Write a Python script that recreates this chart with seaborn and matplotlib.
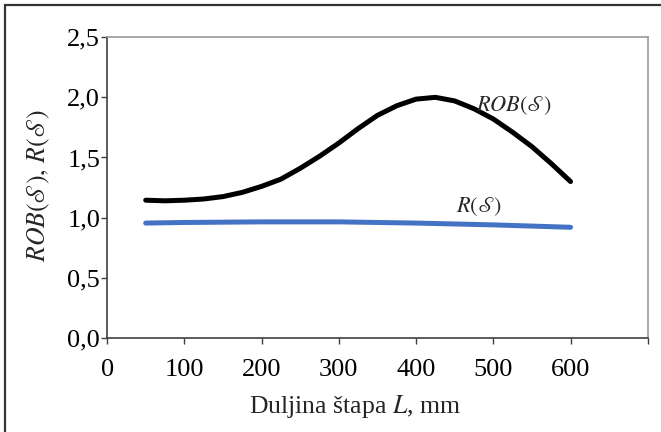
import matplotlib
matplotlib.use("Agg")
import matplotlib.pyplot as plt
import seaborn as sns
import pandas as pd
from matplotlib.patches import Rectangle

# values
duljina = [50, 75, 100, 125, 150, 175, 200, 225, 250, 275, 300, 325,
           350, 375, 400, 425, 450, 475, 500, 525, 550, 575, 600]
rob = [1.145, 1.14, 1.145, 1.155, 1.175, 1.21, 1.26, 1.32, 1.41, 1.51, 1.62, 1.74,
       1.85, 1.93, 1.985, 2.0, 1.97, 1.905, 1.82, 1.71, 1.59, 1.45, 1.30]
r_duljina = [50, 100, 200, 300, 400, 500, 600]
r_vals = [0.955, 0.96, 0.965, 0.965, 0.955, 0.94, 0.92]

x_ticks = [0, 100, 200, 300, 400, 500, 600, 700]
x_labels = ["0", "100", "200", "300", "400", "500", "600", ""]
y_ticks = [0.0, 0.5, 1.0, 1.5, 2.0, 2.5]
y_labels = ["0,0", "0,5", "1,0", "1,5", "2,0", "2,5"]

df_rob = pd.DataFrame({"L": duljina, "v": rob})
df_r = pd.DataFrame({"L": r_duljina, "v": r_vals})

sns.set_theme(style="white")
plt.rcParams["font.family"] = ["Liberation Serif", "DejaVu Serif"]
plt.rcParams["mathtext.fontset"] = "stix"

fig = plt.figure(figsize=(6.61, 4.32), dpi=100)
ax = fig.add_axes([0.162, 0.2176, 0.818, 0.6964])

sns.lineplot(data=df_rob, x="L", y="v", color="black", linewidth=3.6,
             solid_capstyle="round", ax=ax)
sns.lineplot(data=df_r, x="L", y="v", color="#4472C4", linewidth=3.6,
             solid_capstyle="round", ax=ax)

ax.set_xlim(0, 700)
ax.set_ylim(0, 2.5)
ax.set_xticks(x_ticks)
ax.set_xticklabels(x_labels)
ax.set_yticks(y_ticks)
ax.set_yticklabels(y_labels)
ax.tick_params(axis="both", direction="out", length=4, width=1, labelsize=19,
               color="#404040", labelcolor="black")
ax.tick_params(axis="x", pad=11)
ax.tick_params(axis="y", pad=1)
ax.xaxis.set_ticks_position("bottom")
ax.yaxis.set_ticks_position("left")

for s in ["left", "bottom"]:
    ax.spines[s].set_color("#404040")
    ax.spines[s].set_linewidth(1.2)
for s in ["top", "right"]:
    ax.spines[s].set_color("#999999")
    ax.spines[s].set_linewidth(1.2)

ax.set_xlabel(r"Duljina štapa $\mathit{L}$, mm", fontsize=18.5)
ax.set_ylabel(r"$ROB(\mathscr{S}),\, R(\mathscr{S})$", fontsize=18.5)
ax.xaxis.set_label_coords(0.458, -0.183)
ax.yaxis.set_label_coords(-0.102, 0.508)

ax.text(527, 1.93, r"$ROB(\mathscr{S})$", fontsize=16, ha="center", va="center")
ax.text(482, 1.09, r"$R(\mathscr{S})$", fontsize=16, ha="center", va="center")

# outer frame of the original figure (only top and left edges visible)
fig.patches.append(Rectangle((5 / 661, -0.2), 1.5, 1.2 - 5 / 432,
                             transform=fig.transFigure, fill=False,
                             edgecolor="#333333", linewidth=1.6))

fig.savefig("out.png", dpi=100)
